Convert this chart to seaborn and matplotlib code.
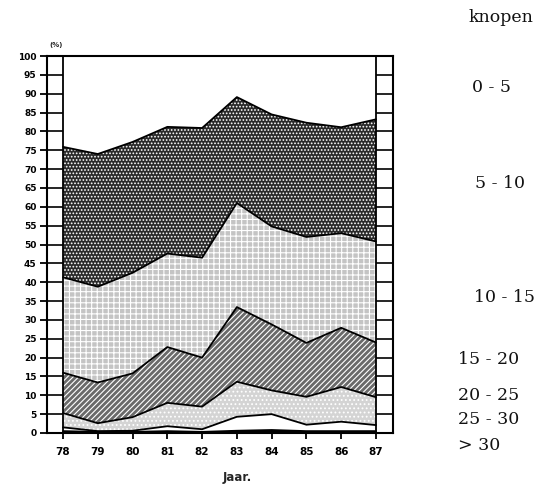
import numpy as np
import pandas as pd
import seaborn as sns
import matplotlib.pyplot as plt

# share of wind classes (knopen) per year, percent
years = [78, 79, 80, 81, 82, 83, 84, 85, 86, 87]
year_labels = ["78", "79", "80", "81", "82", "83", "84", "85", "86", "87"]
gt30 = [0.5, 0.3, 0.3, 0.5, 0.3, 0.6, 0.8, 0.5, 0.5, 0.5]
k25_30 = [1.0, 0.2, 0.3, 1.3, 0.7, 3.7, 4.2, 1.7, 2.5, 1.6]
k20_25 = [3.8, 2.1, 3.6, 6.2, 6.0, 9.3, 6.3, 7.4, 9.2, 7.4]
k15_20 = [10.7, 10.8, 11.6, 14.8, 13.0, 19.8, 17.5, 14.3, 15.7, 14.5]
k10_15 = [25.3, 25.4, 26.7, 24.8, 26.5, 27.6, 26.0, 28.1, 25.1, 26.8]
k5_10 = [34.6, 35.2, 34.7, 33.6, 34.4, 28.1, 29.7, 30.3, 28.1, 32.4]
k0_5 = [24.1, 26.0, 22.8, 18.8, 19.1, 10.9, 15.5, 17.7, 18.9, 16.8]

classes = ["> 30", "25 - 30", "20 - 25", "15 - 20", "10 - 15", "5 - 10", "0 - 5"]
layers = [gt30, k25_30, k20_25, k15_20, k10_15, k5_10, k0_5]

# fill style per layer: face, hatch, hatch colour
styles = [
    ("black", None, "black"),
    ("white", "\\\\\\\\", "black"),
    ("#d4d4d4", "....", "#7a7a7a"),
    ("#6a6a6a", "//////", "#111111"),
    ("#c4c4c4", "+++", "#2a2a2a"),
    ("#2a2a2a", ".....", "#9a9a9a"),
    ("white", None, "white"),
]

sns.set_style("white")
plt.rcParams["font.family"] = ["DejaVu Sans"]
plt.rcParams["hatch.linewidth"] = 0.8

fig = plt.figure(figsize=(5.46, 4.91), dpi=100)
ax = fig.add_axes([47 / 546, 58 / 491, 346 / 546, 377 / 491])

x0, x1 = 77.54, 87.49
ax.set_xlim(x0, x1)
ax.set_ylim(0, 100)

cum = np.cumsum(np.array(layers), axis=0)
lower = np.zeros(len(years))
for top, (face, hatch, hcol) in zip(cum, styles):
    with plt.rc_context({"hatch.color": hcol}):
        ax.fill_between(years, lower, top, facecolor=face, hatch=hatch,
                        edgecolor="none", linewidth=0)
    lower = top

# boundary lines
rows = []
for i, top in enumerate(cum[:-1]):
    for yr, v in zip(years, top):
        rows.append({"year": yr, "value": v, "edge": classes[i]})
df = pd.DataFrame(rows)
sns.lineplot(data=df, x="year", y="value", hue="edge", units="edge",
             estimator=None, palette=["black"] * (len(classes) - 1),
             linewidth=1.3, legend=False, ax=ax)

# tick columns left and right
yt = list(range(0, 101, 5))
ax.hlines(yt, x0, 78, color="black", linewidth=1.2)
ax.hlines(yt, 87, x1, color="black", linewidth=1.2)
ax.axvline(78, color="black", linewidth=1.3)
ax.axvline(87, color="black", linewidth=1.3)

for s in ax.spines.values():
    s.set_color("black")
    s.set_linewidth(1.5)

ax.set_yticks(yt)
ax.set_yticklabels([str(v) for v in yt], fontsize=6.5, fontweight="bold")
ax.set_xticks(years)
ax.set_xticklabels(year_labels, fontsize=7.5, fontweight="bold")
ax.tick_params(axis="y", direction="out", length=5, width=1.3, pad=2.5,
               left=True, colors="black")
ax.tick_params(axis="x", direction="out", length=4, width=1.3, pad=6,
               bottom=True, colors="black")
ax.set_xlabel("")
ax.set_ylabel("")

fig.text(237 / 546, 1 - 477 / 491, "Jaar.", ha="center", va="center",
         fontsize=8.5, fontweight="bold")
fig.text(56 / 546, 1 - 45 / 491, "(%)", ha="center", va="center",
         fontsize=5, fontweight="bold")

# legend labels
serif = ["DejaVu Serif"]
fig.text(501 / 546, 1 - 18 / 491, "knopen", ha="center", va="center",
         fontsize=12.5, family=serif, color="#111111")
legend_pos = {
    "0 - 5": (492, 87, "center"),
    "5 - 10": (500, 183, "center"),
    "10 - 15": (504, 297, "center"),
    "15 - 20": (458, 360, "left"),
    "20 - 25": (458, 396, "left"),
    "25 - 30": (458, 420, "left"),
    "> 30": (458, 445, "left"),
}
for lab, (px, py, ha) in legend_pos.items():
    fig.text(px / 546, 1 - py / 491, lab, ha=ha, va="center",
             fontsize=12.5, family=serif, color="#111111")

fig.savefig("out.png", dpi=100)
